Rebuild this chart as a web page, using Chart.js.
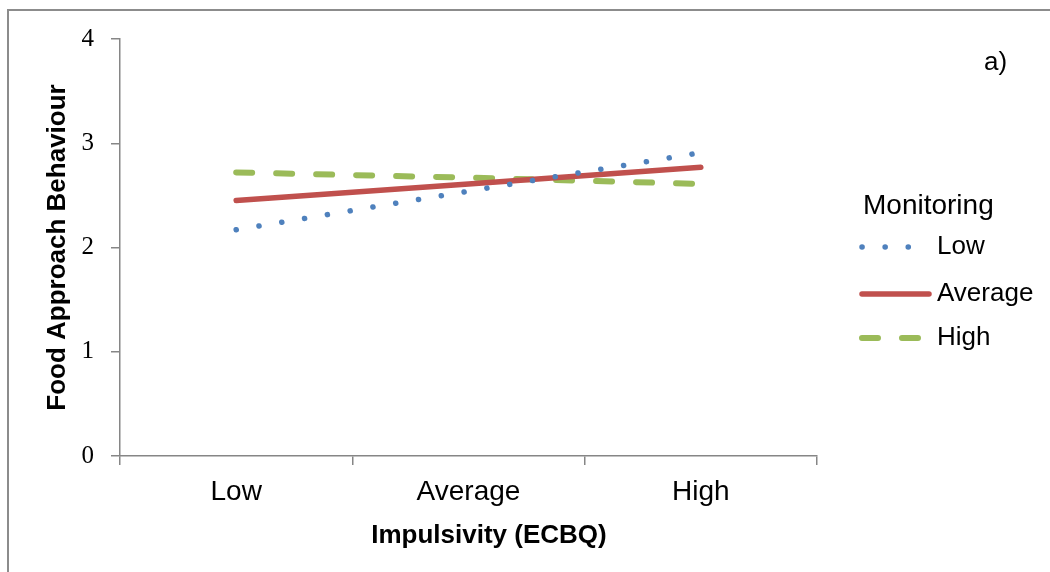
<!DOCTYPE html>
<html>
<head>
<meta charset="utf-8">
<script src="https://cdn.jsdelivr.net/npm/chart.js@4"></script>
<style>
  html, body { margin: 0; padding: 0; background: #fff; }
  canvas { display: block; }
</style>
</head>
<body>
<canvas id="chart" width="1050" height="572"></canvas>
<script>
// impulsivity levels on the x axis
const categories = ['Low', 'Average', 'High'];

// food approach behaviour, one series per monitoring level
const lowMonitoring = [2.17, 2.54, 2.91];
const averageMonitoring = [2.45, 2.61, 2.77];
const highMonitoring = [2.72, 2.67, 2.61];

const yTicks = [0, 1, 2, 3, 4];

const axisGrey = '#868686';
const sans = '"Liberation Sans", Arial, sans-serif';

// frame, legend, x title and panel label
const extras = {
  id: 'extras',
  beforeDraw(chart) {
    const ctx = chart.ctx;
    ctx.save();
    ctx.fillStyle = '#fff';
    ctx.fillRect(0, 0, chart.width, chart.height);
    ctx.strokeStyle = '#8c8c8c';
    ctx.lineWidth = 2;
    ctx.strokeRect(8, 10, 1200, 800);
    ctx.restore();
  },
  afterDraw(chart) {
    const ctx = chart.ctx;
    ctx.save();
    ctx.fillStyle = '#000';
    ctx.textBaseline = 'middle';

    // x title sits a little right of the plot centre in the original
    ctx.textAlign = 'center';
    ctx.font = 'bold 26px ' + sans;
    ctx.fillText('Impulsivity (ECBQ)', 489, 536);

    ctx.textAlign = 'left';
    ctx.font = '26px ' + sans;
    ctx.fillText('a)', 984, 63);

    ctx.font = '28px ' + sans;
    ctx.fillText('Monitoring', 863, 206);

    const rows = [247, 294, 338];
    chart.data.datasets.forEach((ds, i) => {
      const y = rows[i];
      ctx.save();
      ctx.strokeStyle = ds.borderColor;
      ctx.lineWidth = ds.borderWidth;
      ctx.lineCap = ds.borderCapStyle || 'butt';
      ctx.setLineDash(ds.borderDash || []);
      ctx.beginPath();
      ctx.moveTo(862, y);
      ctx.lineTo(929, y);
      ctx.stroke();
      ctx.restore();
      ctx.font = '26px ' + sans;
      ctx.fillText(ds.label, 937, y);
    });
    ctx.restore();
  }
};

new Chart(
  document.getElementById('chart'),
  {
    type: 'line',
    plugins: [extras],
    data: {
      labels: categories,
      datasets: [
        {
          label: 'Low',
          data: lowMonitoring,
          borderColor: '#4F81BD',
          borderWidth: 5.5,
          borderDash: [0.1, 23],
          borderCapStyle: 'round',
          pointRadius: 0,
        },
        {
          label: 'Average',
          data: averageMonitoring,
          borderColor: '#C0504D',
          borderWidth: 5.5,
          borderCapStyle: 'round',
          pointRadius: 0,
        },
        {
          label: 'High',
          data: highMonitoring,
          borderColor: '#9BBB59',
          borderWidth: 6,
          borderDash: [16, 24],
          borderCapStyle: 'round',
          pointRadius: 0,
        },
      ]
    },
    options: {
      responsive: false,
      animation: false,
      layout: {
        padding: { top: 39, right: 233, bottom: 0, left: 0 }
      },
      plugins: {
        legend: { display: false },
        tooltip: { enabled: false },
      },
      scales: {
        x: {
          offset: true,
          afterFit: scale => { scale.height = 116; },
          grid: {
            offset: true,
            drawOnChartArea: false,
            tickLength: 9,
            color: axisGrey,
            lineWidth: 1.5,
          },
          border: { color: axisGrey, width: 1.5 },
          ticks: {
            padding: 10,
            color: '#000',
            font: { family: sans, size: 28 },
          },
        },
        y: {
          min: yTicks[0],
          max: yTicks[yTicks.length - 1],
          afterFit: scale => { scale.width = 120; },
          afterBuildTicks: scale => { scale.ticks = yTicks.map(v => ({ value: v })); },
          grid: {
            drawOnChartArea: false,
            tickLength: 9,
            color: axisGrey,
            lineWidth: 1.5,
          },
          border: { color: axisGrey, width: 1.5 },
          ticks: {
            padding: 17,
            color: '#000',
            font: { family: '"Liberation Serif", "Times New Roman", serif', size: 25 },
          },
          title: {
            display: true,
            text: 'Food Approach Behaviour',
            color: '#000',
            padding: { top: 42, bottom: 0 },
            font: { family: sans, size: 26, weight: 'bold' },
          },
        }
      }
    }
  }
);
</script>
</body>
</html>
